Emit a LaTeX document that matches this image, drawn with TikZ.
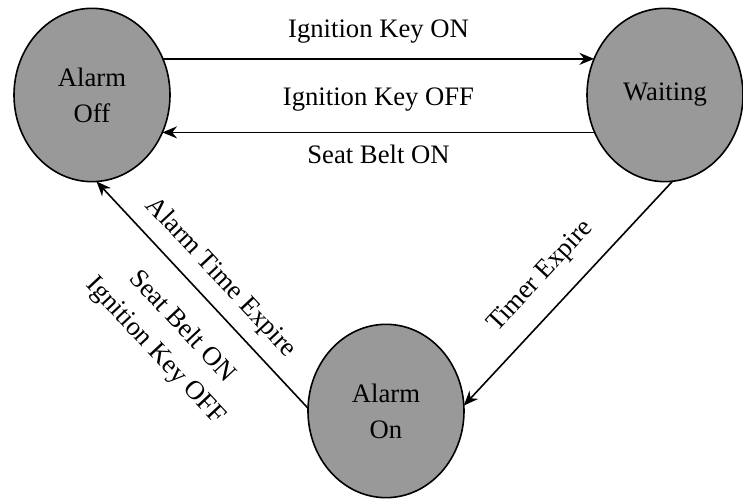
\documentclass[tikz,border=0pt]{standalone}
\usepackage{fontspec}
\setmainfont{Liberation Serif}
\newfontfamily\statefont{Liberation Serif}
\usetikzlibrary{shapes.geometric,arrows.meta}
\begin{document}
\begin{tikzpicture}[x=0.75pt,y=0.75pt,>={Stealth[length=11pt,width=9pt]}, font=\statefont\fontsize{20}{27}\selectfont, line join=round, line cap=round]
	\tikzset{state/.style={ellipse, draw, line width=1.2pt, fill=black!40, minimum width=117pt, minimum height=130pt, inner sep=0pt, outer sep=0pt, align=center},
		trans/.style={->, line width=1.2pt},
		every node/.style={inner sep=2pt}}
	\useasboundingbox (0,0) rectangle (743,499);
	\node[state] (off) at (92,404) {Alarm\\Off};
	\node[state] (wait) at (665,404) {Waiting};
	\node[state] (on) at (386,88) {Alarm\\On};
	\draw[trans] (off.27) -- node[above=9pt]{Ignition Key ON} (wait.153);
	\draw[trans] (wait.-152) -- node[above=13pt]{Ignition Key OFF} node[below=7pt]{Seat Belt ON} (off.-28);
	\draw[trans] (wait.-85) -- node[pos=0.52, sloped, above=12pt]{Timer Expire} (on.4);
	\draw[trans] (on.178) -- node[pos=0.50, sloped, above=7pt]{Alarm Time Expire} node[pos=0.47, sloped, below=16pt, align=center]{Seat Belt ON\\Ignition Key OFF} (off.-87);
\end{tikzpicture}
\end{document}
